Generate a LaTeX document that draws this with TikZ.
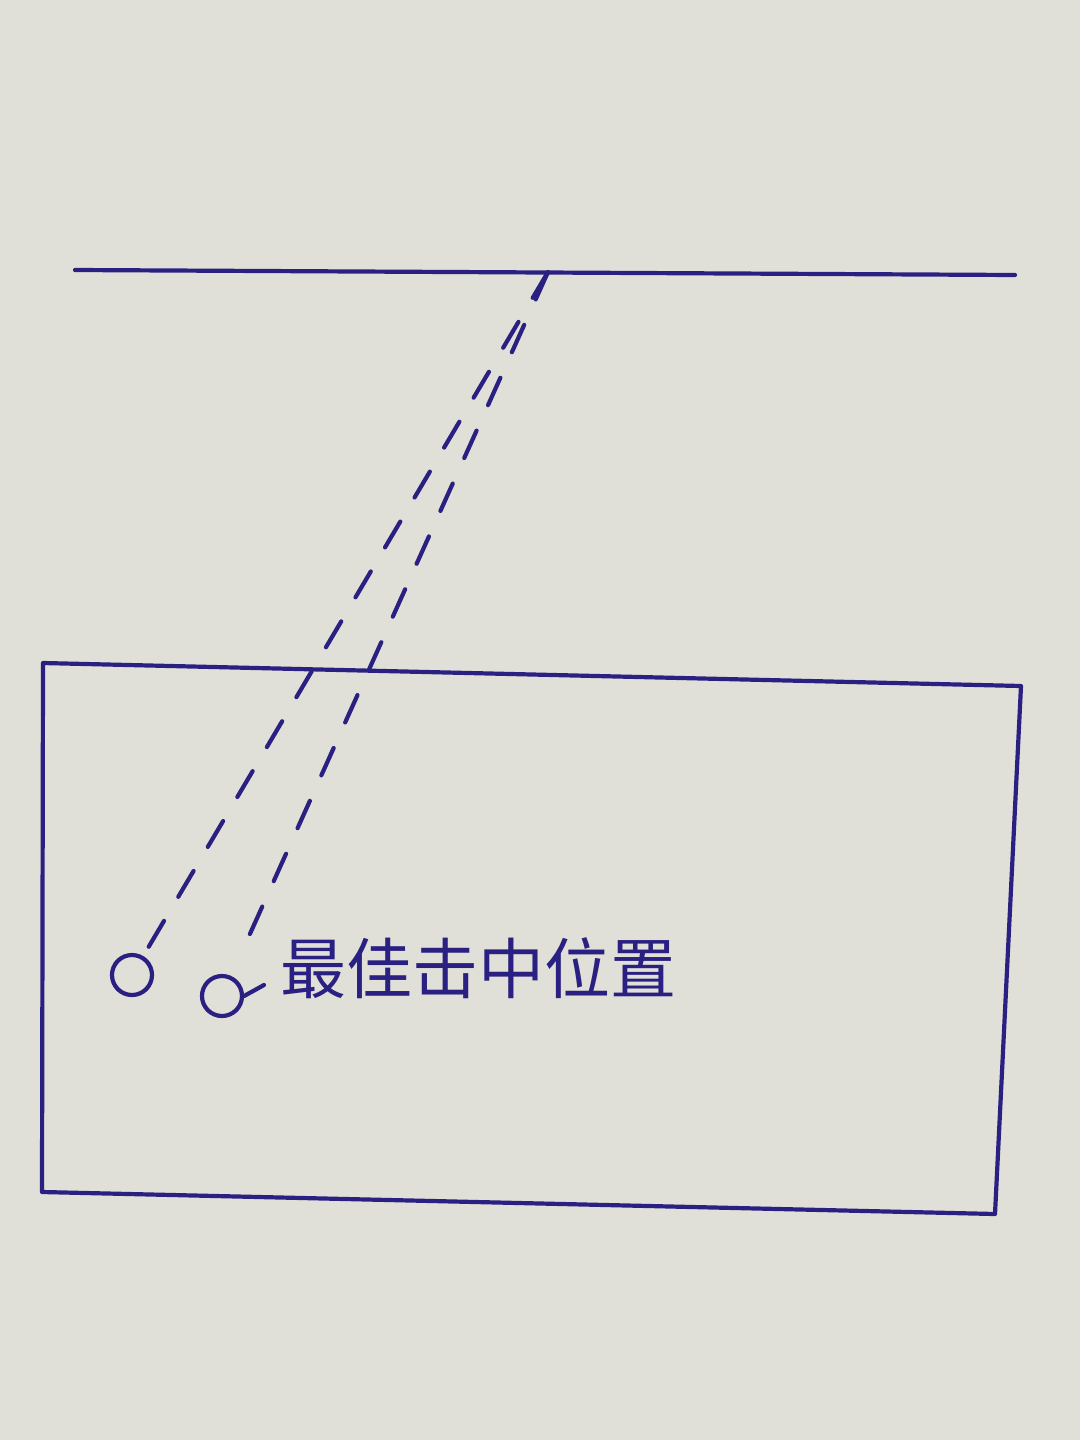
\documentclass[tikz,border=0pt]{standalone}
\usepackage{fontspec}
\usetikzlibrary{calc}
\newfontfamily\cjk{Noto Sans CJK SC}
\definecolor{ink}{RGB}{42,32,130}
\definecolor{paper}{RGB}{224,224,216}
\begin{document}
\begin{tikzpicture}[x=1pt,y=-1pt,
  inkline/.style={draw=ink,line width=4.2pt,line cap=round,line join=round},
  dashline/.style={inkline,dash pattern=on 30pt off 28pt},
  spot/.style={circle,draw=ink,line width=4.2pt,minimum size=40pt,inner sep=0pt}]
\fill[paper] (0,0) rectangle (1080,1440);
\useasboundingbox (0,0) rectangle (1080,1440);
% top line
\coordinate (tl) at (75,270);
\coordinate (tr) at (1015,275);
\draw[inkline] (tl) -- (tr);
\coordinate (apex) at (548,272);
% box
\coordinate (b1) at (43,663);
\coordinate (b2) at (1021,686);
\coordinate (b3) at (995,1214);
\coordinate (b4) at (42,1192);
\draw[inkline] (b1) -- (b2) -- (b3) -- (b4) -- cycle;
% target spots
\node[spot] (c1) at (132,975) {};
\node[spot] (c2) at (222,996) {};
\draw[dashline] (apex) -- (c1);
\draw[dashline] (apex) -- ($(c2)!0.06!(apex)$);
\coordinate (t2) at (264,985);
\draw[inkline] (c2.east) -- (t2);
\node[text=ink,font=\cjk\fontsize{66}{66}\selectfont,anchor=west,inner sep=0pt] (lbl) at (280,968) {最佳击中位置};
\end{tikzpicture}
\end{document}
